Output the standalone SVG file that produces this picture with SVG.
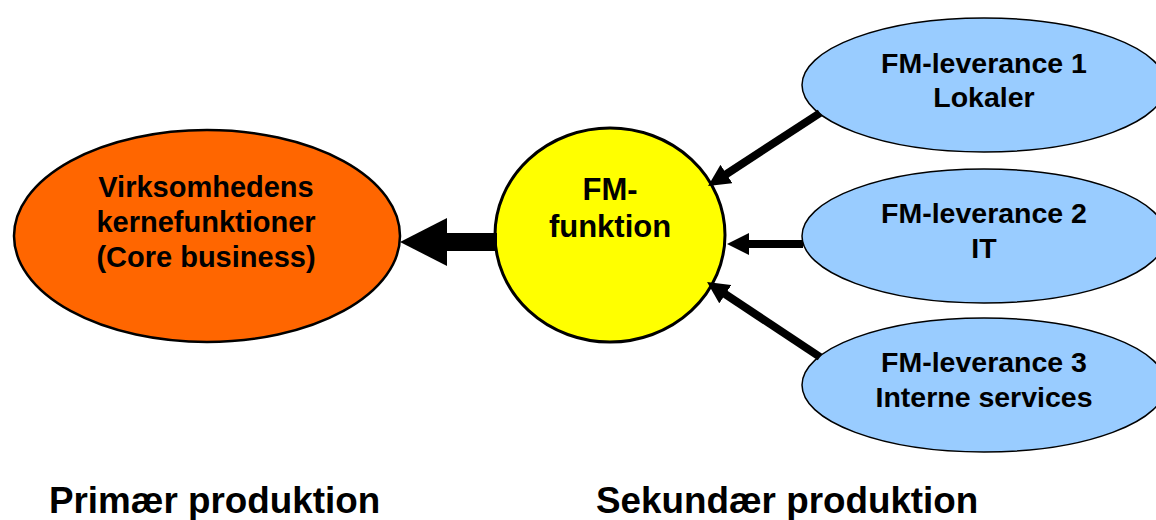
<svg xmlns="http://www.w3.org/2000/svg" width="1156" height="520" viewBox="0 0 1156 520">
  <defs>
    <style>
      text { font-family: "Liberation Sans", Arial, sans-serif; font-weight: bold; fill: #000; text-anchor: middle; }
      .core { fill: #FF6600; stroke: #000; stroke-width: 2.5; }
      .fm { fill: #FFFF00; stroke: #000; stroke-width: 3; }
      .lev { fill: #99CCFF; stroke: #000; stroke-width: 1.5; }
      .conn { stroke: #000; fill: none; }
      .t29 { font-size: 29px; }
      .t31 { font-size: 31px; }
      .t28 { font-size: 28.5px; }
      .big { font-size: 36.8px; text-anchor: start; }
    </style>
    <marker id="headS" markerUnits="userSpaceOnUse" markerWidth="22" markerHeight="22" refX="2" refY="11" orient="auto" viewBox="0 0 22 22">
      <path d="M0,0 L22,11 L0,22 z" fill="#000"/>
    </marker>
    <marker id="headL" markerUnits="userSpaceOnUse" markerWidth="47" markerHeight="48" refX="2" refY="24" orient="auto" viewBox="0 0 47 48">
      <path d="M0,0 L47,24 L0,48 z" fill="#000"/>
    </marker>
  </defs>
  <rect width="1156" height="520" fill="#fff"/>

  <g id="core">
    <ellipse class="core" cx="207" cy="236" rx="193" ry="106"/>
    <text class="t29" x="206" y="197">Virksomhedens</text>
    <text class="t29" x="206" y="232">kernefunktioner</text>
    <text class="t29" x="206" y="267">(Core business)</text>
  </g>

  <g id="fm">
    <ellipse class="fm" cx="610" cy="235" rx="115" ry="107"/>
    <text class="t31" x="610" y="200">FM-</text>
    <text class="t31" x="610" y="237">funktion</text>
  </g>

  <g id="lev1">
    <ellipse class="lev" cx="984" cy="85" rx="182" ry="67"/>
    <text class="t28" x="984" y="73">FM-leverance 1</text>
    <text class="t28" x="984" y="107">Lokaler</text>
  </g>

  <g id="lev2">
    <ellipse class="lev" cx="984" cy="236" rx="182" ry="67"/>
    <text class="t28" x="984" y="223">FM-leverance 2</text>
    <text class="t28" x="984" y="258">IT</text>
  </g>

  <g id="lev3">
    <ellipse class="lev" cx="984" cy="385" rx="182" ry="67"/>
    <text class="t28" x="984" y="372">FM-leverance 3</text>
    <text class="t28" x="984" y="407">Interne services</text>
  </g>

  <g id="connectors">
    <line class="conn" x1="497" y1="242" x2="445" y2="242" stroke-width="18" marker-end="url(#headL)"/>
    <line class="conn" x1="820" y1="113" x2="724.8" y2="175.1" stroke-width="8" marker-end="url(#headS)"/>
    <line class="conn" x1="803" y1="244" x2="747" y2="244" stroke-width="8" marker-end="url(#headS)"/>
    <line class="conn" x1="820" y1="357" x2="723.7" y2="293.1" stroke-width="8" marker-end="url(#headS)"/>
  </g>

  <g id="labels">
    <text class="big" x="49" y="513">Primær produktion</text>
    <text class="big" x="596" y="513">Sekundær produktion</text>
  </g>
</svg>
